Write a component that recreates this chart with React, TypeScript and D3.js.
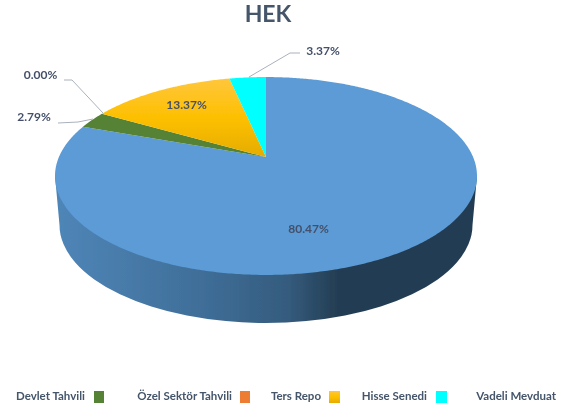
import React from "react";
import * as d3 from "d3";

const categories = ["Devlet Tahvili", "Özel Sektör Tahvili", "Ters Repo", "Hisse Senedi", "Vadeli Mevduat"];
const values = [80.47, 2.79, 0.0, 13.37, 3.37];
const colors = ["#5b9bd5", "#548235", "#ed7d31", "url(#yellowGrad)", "#00ffff"];
const legendColors = ["#5b9bd5", "#548235", "#ed7d31", "url(#yellowGrad)", "#00ffff"];
const legendTextEnd = [85, 232, 321, 427, 556];
const legendSwatchX = [-30, 94, 240, 329, 436];
const legendSwatchW = [10, 10, 10, 11, 11];
const labelPos = [
  { x: 308.5, y: 233 },
  { x: 34, y: 121 },
  { x: 40.5, y: 79 },
  { x: 186.5, y: 109 },
  { x: 323, y: 55 },
];
const leaders: ([number, number][] | null)[] = [
  null,
  [[58, 123], [78, 122], [93, 119]],
  [[64, 80], [72, 80], [103, 113]],
  null,
  [[300, 53], [290, 53], [249, 77]],
];

// Perspective projection of the pie's circle on to the page
const cx = 266, apexY = 157, a = 207.07, b = 95.3, k = 0.1919;
const project = (angle: number): [number, number] => {
  const u = Math.sin(angle);
  const v = -Math.cos(angle);
  const d = 1 - k * v;
  return [cx + (a * u) / d, apexY + (b * v) / d];
};

const pie = d3.pie<number>().value((d) => d).sort(null).startAngle(0).endAngle(2 * Math.PI);
const arcs = pie(values);

const line = d3.line<[number, number]>().curve(d3.curveLinear);
const slicePath = (s: number, e: number) => {
  const n = Math.max(2, Math.ceil((e - s) / 0.01));
  const pts: [number, number][] = [[cx, apexY]];
  d3.range(n + 1).forEach((i) => pts.push(project(s + ((e - s) * i) / n)));
  return line(pts) + "Z";
};

const topCy = 176, topRx = 211, botCy = 225, botRx = 206.5, botRy = 98;
const sidePath = `M${cx - topRx},${topCy} L${cx - botRx},${botCy} A${botRx},${botRy} 0 0 0 ${cx + botRx},${botCy} L${cx + topRx},${topCy} Z`;

export default function App() {
  return (
    <svg width={571} height={410} style={{ position: "absolute", left: 0, top: 0 }} fontFamily="Lato, 'Open Sans', sans-serif">
      <defs>
        <linearGradient id="yellowGrad" x1="0" y1="0" x2="0" y2="1">
          <stop offset="0" stopColor="#ffc63c" />
          <stop offset="0.5" stopColor="#fdc000" />
          <stop offset="1" stopColor="#e5ac00" />
        </linearGradient>
        <linearGradient id="sideGrad" gradientUnits="userSpaceOnUse" x1="55" y1="0" x2="477" y2="0">
          <stop offset="0" stopColor="#4f86b8" />
          <stop offset="0.35" stopColor="#3f6e98" />
          <stop offset="0.55" stopColor="#355c7e" />
          <stop offset="0.67" stopColor="#243d53" />
          <stop offset="1" stopColor="#243d53" />
        </linearGradient>
        <filter id="soft" x="-5%" y="-5%" width="110%" height="110%">
          <feGaussianBlur stdDeviation="0.55" />
        </filter>
      </defs>
      <g filter="url(#soft)">
        <text x={268} y={22} textAnchor="middle" fontSize={23} fontWeight={700} fill="#44546a">HEK</text>
        <path d={sidePath} fill="url(#sideGrad)" />
        {arcs.map((d, i) => (
          <path key={i} d={slicePath(d.startAngle, d.endAngle)} fill={colors[i]} />
        ))}
        {leaders.map((pts, i) =>
          pts ? <path key={i} d={line(pts) ?? ""} fill="none" stroke="#aab1bc" strokeWidth={1} /> : null
        )}
        {values.map((v, i) => (
          <text key={i} x={labelPos[i].x} y={labelPos[i].y} textAnchor="middle" fontSize={12} fontWeight={700} fill="#44506a">
            {v.toFixed(2)}%
          </text>
        ))}
        {categories.map((c, i) => (
          <g key={c}>
            <rect x={legendSwatchX[i]} y={391} width={legendSwatchW[i]} height={12} fill={legendColors[i]} />
            <text x={legendTextEnd[i]} y={400} textAnchor="end" fontSize={11.5} fontWeight={700} fill="#44546a">{c}</text>
          </g>
        ))}
      </g>
    </svg>
  );
}
